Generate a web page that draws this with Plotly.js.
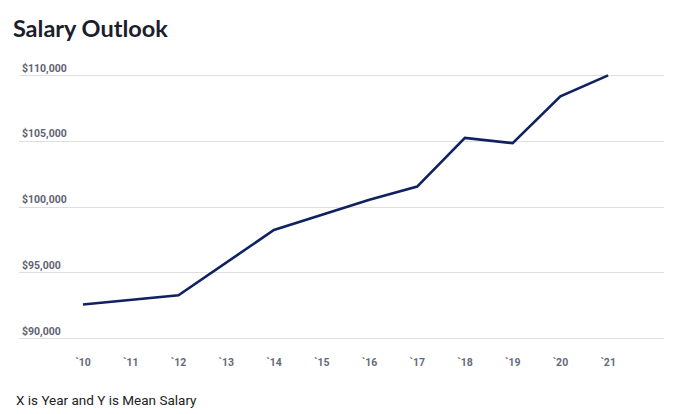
<!DOCTYPE html>
<html>
<head>
<meta charset="utf-8">
<script src="https://cdn.plot.ly/plotly-3.0.1.min.js"></script>
<style>html,body{margin:0;padding:0;background:#fff;}#chart{width:678px;height:414px;}</style>
</head>
<body>
<div id="chart"></div>
<script>
var years = [2010, 2012, 2014, 2016, 2017, 2018, 2019, 2020, 2021];
var salaries = [92600, 93300, 98250, 100550, 101550, 105250, 104850, 108400, 110000];
var tickYears = [2010, 2011, 2012, 2013, 2014, 2015, 2016, 2017, 2018, 2019, 2020, 2021];
var tickLabels = ["`10", "`11", "`12", "`13", "`14", "`15", "`16", "`17", "`18", "`19", "`20", "`21"];
var yTicks = [90000, 95000, 100000, 105000, 110000];
var yTickLabels = ["$90,000", "$95,000", "$100,000", "$105,000", "$110,000"];

var trace = {
  x: years, y: salaries, type: 'scatter', mode: 'lines',
  line: {color: '#0f2160', width: 2.6},
  hoverinfo: 'skip'
};
var layout = {
  width: 678, height: 414,
  margin: {l: 19, r: 14, t: 74, b: 74},
  paper_bgcolor: '#ffffff', plot_bgcolor: '#ffffff',
  showlegend: false,
  title: {text: '<b>Salary Outlook</b>', x: 0.019, xanchor: 'left', xref: 'container', y: 0.93, yanchor: 'middle',
          font: {family: 'Lato, "Open Sans", sans-serif', size: 23.5, color: '#1b1e2b'}},
  xaxis: {
    range: [2008.66, 2022.17], tickvals: tickYears, ticktext: tickLabels,
    showgrid: false, zeroline: false, showline: false,
    ticks: 'outside', ticklen: 12, tickcolor: 'rgba(0,0,0,0)',
    tickfont: {family: 'Roboto, sans-serif', size: 10.5, color: '#666a78', weight: 'bold'}
  },
  yaxis: {
    range: [89900, 110100], tickvals: yTicks, ticktext: yTickLabels,
    ticklabelposition: 'inside top', ticklabeloverflow: 'allow',
    showgrid: true, gridcolor: '#dedede', gridwidth: 1, zeroline: false, showline: false,
    tickfont: {family: 'Roboto, sans-serif', size: 10.5, color: '#5f6372', weight: 'bold'}
  },
  annotations: [{
    text: 'X is Year and Y is Mean Salary', xref: 'paper', yref: 'paper', x: -0.008, y: -0.225,
    xanchor: 'left', yanchor: 'middle', showarrow: false,
    font: {family: 'Roboto, sans-serif', size: 13.5, color: '#222222'}
  }]
};
Plotly.newPlot('chart', [trace], layout, {displayModeBar: false, staticPlot: true});
</script>
</body>
</html>
